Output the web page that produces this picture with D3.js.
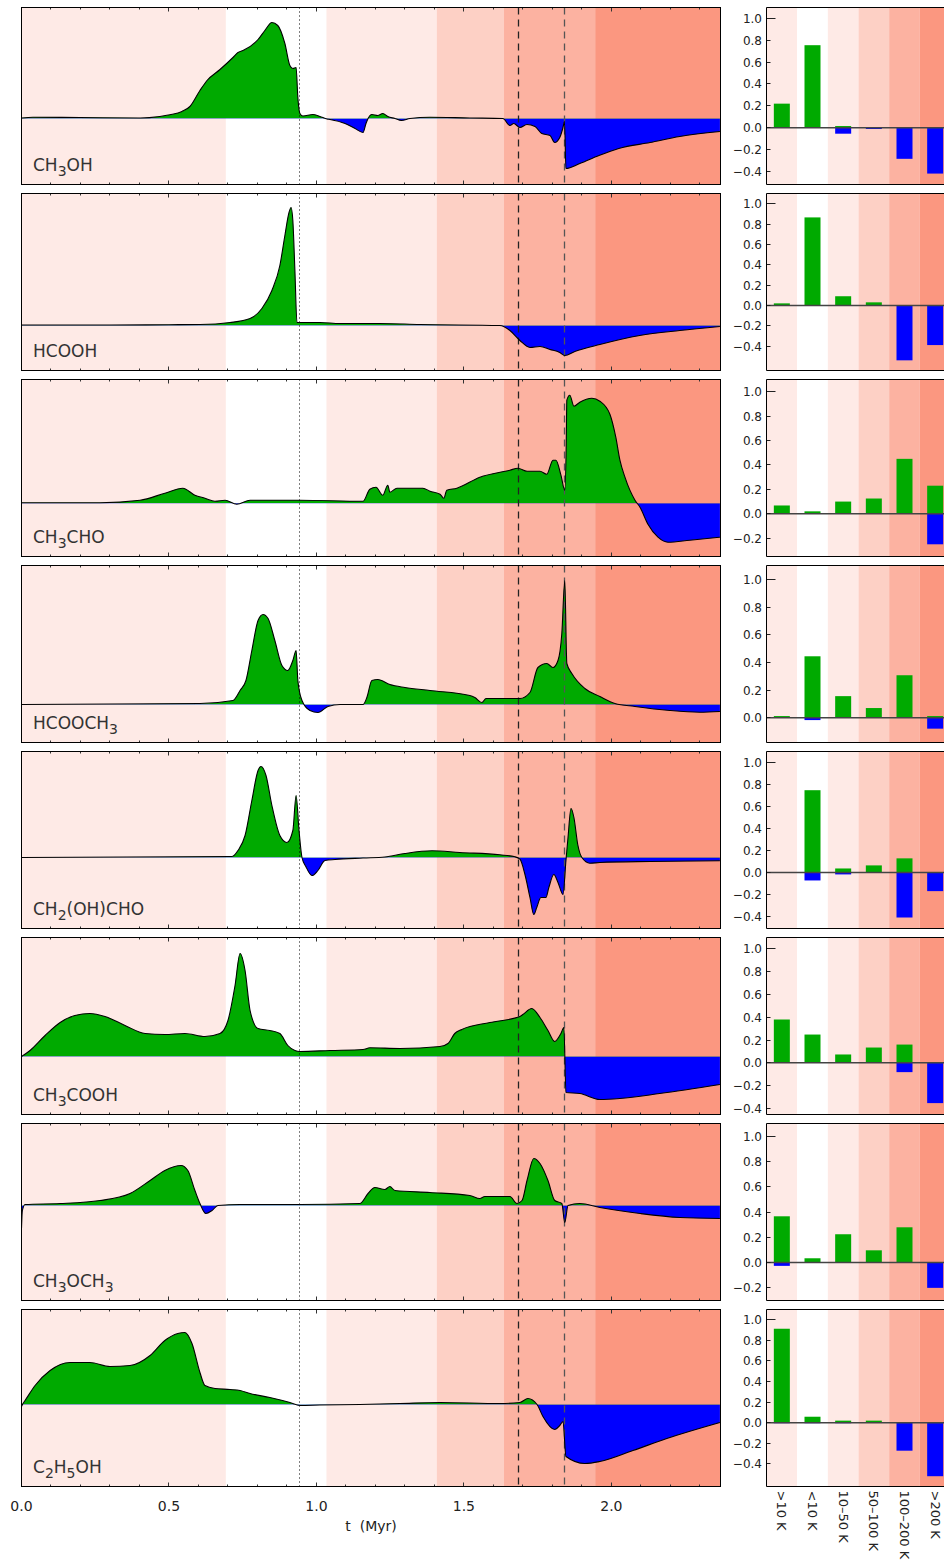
<!DOCTYPE html>
<html>
<head>
<meta charset="utf-8">
<script src="https://cdn.jsdelivr.net/npm/d3@7"></script>
<style>
body{margin:0;background:#fff}
text{font-family:"DejaVu Sans",sans-serif;fill:#222}
</style>
</head>
<body>
<script>
// species shown in each row ("_3" = subscript 3)
var speciesLabels = ["CH_3OH", "HCOOH", "CH_3CHO", "HCOOCH_3", "CH_2(OH)CHO", "CH_3COOH", "CH_3OCH_3", "C_2H_5OH"]

// temperature phases along the time axis (Myr) and their shading
var bandEdges = [0, 0.693, 1.034, 1.408, 1.636, 1.945, 2.37]
var bandColors = ["#feeae6", "#ffffff", "#feeae6", "#fdd0c5", "#fcb2a1", "#fb9780"]
var dottedAt = 0.941
var dashedAt = [1.686, 1.842]
var xTicks = [0, 0.5, 1.0, 1.5, 2.0]

// time curves [t (Myr), value]
var ch3ohCurve = [[0,0.005],[0.039,0.013],[0.198,0.01],[0.402,0.005],[0.469,0.02],[0.503,0.037],[0.544,0.07],[0.571,0.12],[0.605,0.28],[0.629,0.38],[0.673,0.49],[0.717,0.61],[0.734,0.66],[0.751,0.68],[0.802,0.79],[0.825,0.88],[0.849,0.96],[0.869,0.93],[0.893,0.75],[0.910,0.53],[0.920,0.50],[0.931,0.51],[0.937,0.21],[0.944,0.05],[0.954,0.025],[0.988,0.04],[1.012,0.02],[1.036,-0.005],[1.046,-0.01],[1.097,-0.05],[1.131,-0.10],[1.158,-0.14],[1.168,-0.05],[1.175,0],[1.188,0.04],[1.208,0.03],[1.225,0.05],[1.242,0.02],[1.266,0],[1.288,-0.02],[1.317,0],[1.385,0.013],[1.520,0.005],[1.632,0],[1.656,-0.07],[1.669,-0.05],[1.690,-0.09],[1.714,-0.06],[1.741,-0.08],[1.764,-0.15],[1.792,-0.17],[1.808,-0.24],[1.825,-0.19],[1.836,-0.09],[1.841,-0.03],[1.846,-0.50],[1.893,-0.45],[1.958,-0.37],[2.025,-0.30],[2.131,-0.24],[2.232,-0.18],[2.368,-0.13]]
var hcoohCurve = [[0,0.005],[0.3,0.005],[0.5,0.008],[0.605,0.01],[0.707,0.03],[0.775,0.07],[0.815,0.17],[0.849,0.35],[0.876,0.60],[0.893,0.90],[0.907,1.13],[0.914,1.18],[0.920,1.05],[0.927,0.55],[0.934,0.03],[0.944,0.03],[1.012,0.03],[1.08,0.02],[1.215,0.02],[1.351,0.01],[1.622,0],[1.656,-0.05],[1.69,-0.15],[1.724,-0.22],[1.758,-0.21],[1.792,-0.24],[1.825,-0.27],[1.842,-0.30],[1.876,-0.26],[1.961,-0.19],[2.096,-0.10],[2.232,-0.05],[2.368,-0.01]]
var ch3choCurve = [[0,0.005],[0.266,0.005],[0.402,0.03],[0.486,0.10],[0.547,0.15],[0.588,0.08],[0.622,0.05],[0.656,0.02],[0.690,0.03],[0.730,-0.01],[0.775,0.03],[0.944,0.03],[1.158,0.02],[1.181,0.14],[1.202,0.16],[1.225,0.08],[1.242,0.18],[1.249,0.11],[1.273,0.15],[1.317,0.15],[1.361,0.15],[1.385,0.12],[1.419,0.09],[1.432,0.05],[1.442,0.13],[1.476,0.15],[1.554,0.26],[1.656,0.33],[1.683,0.35],[1.714,0.32],[1.758,0.32],[1.781,0.29],[1.802,0.43],[1.812,0.43],[1.829,0.28],[1.842,0.13],[1.847,0.6],[1.849,1.03],[1.859,1.08],[1.873,0.97],[1.893,1.01],[1.934,1.05],[1.961,1.02],[1.995,0.89],[2.015,0.66],[2.029,0.43],[2.046,0.26],[2.080,0.03],[2.097,-0.04],[2.124,-0.21],[2.158,-0.34],[2.192,-0.39],[2.266,-0.37],[2.368,-0.34]]
var hcooch3Curve = [[0,0],[0.605,0.01],[0.717,0.04],[0.741,0.14],[0.761,0.24],[0.781,0.54],[0.802,0.84],[0.819,0.90],[0.836,0.86],[0.859,0.64],[0.883,0.39],[0.903,0.34],[0.920,0.44],[0.931,0.54],[0.937,0.24],[0.951,0.04],[0.978,-0.06],[1.005,-0.08],[1.039,-0.02],[1.080,0],[1.158,0],[1.171,0.07],[1.188,0.24],[1.208,0.25],[1.249,0.20],[1.300,0.17],[1.385,0.14],[1.520,0.09],[1.537,0.07],[1.561,0.02],[1.575,0.06],[1.622,0.06],[1.690,0.06],[1.724,0.12],[1.751,0.37],[1.781,0.41],[1.802,0.37],[1.819,0.44],[1.832,0.71],[1.842,1.24],[1.849,0.41],[1.866,0.31],[1.910,0.16],[1.961,0.08],[2.012,0.01],[2.080,-0.02],[2.198,-0.06],[2.300,-0.077],[2.368,-0.07]]
var glycolCurve = [[0,0],[0.714,0.01],[0.734,0.07],[0.758,0.22],[0.781,0.57],[0.802,0.87],[0.812,0.91],[0.829,0.82],[0.849,0.52],[0.876,0.22],[0.900,0.15],[0.920,0.27],[0.931,0.62],[0.941,0.27],[0.951,0],[0.964,-0.09],[0.985,-0.18],[1.005,-0.13],[1.029,-0.03],[1.063,-0.02],[1.158,-0.005],[1.232,0.005],[1.300,0.04],[1.392,0.067],[1.486,0.05],[1.622,0.027],[1.673,0.007],[1.690,-0.017],[1.707,-0.17],[1.724,-0.40],[1.737,-0.57],[1.747,-0.50],[1.761,-0.40],[1.778,-0.40],[1.788,-0.30],[1.805,-0.17],[1.819,-0.25],[1.836,-0.37],[1.846,-0.03],[1.853,0.20],[1.863,0.49],[1.873,0.40],[1.886,0.13],[1.900,0],[1.927,-0.057],[1.961,-0.05],[2.131,-0.04],[2.368,-0.033]]
var ch3coohCurve = [[0,0],[0.029,0.06],[0.080,0.21],[0.131,0.34],[0.181,0.41],[0.232,0.43],[0.283,0.40],[0.351,0.31],[0.419,0.23],[0.486,0.22],[0.554,0.23],[0.622,0.20],[0.673,0.23],[0.700,0.36],[0.724,0.71],[0.741,1.03],[0.758,0.86],[0.775,0.46],[0.802,0.28],[0.842,0.26],[0.876,0.23],[0.903,0.11],[0.927,0.06],[0.944,0.05],[1.046,0.06],[1.158,0.07],[1.181,0.087],[1.283,0.08],[1.419,0.10],[1.446,0.13],[1.469,0.23],[1.493,0.27],[1.588,0.34],[1.690,0.40],[1.700,0.42],[1.730,0.48],[1.758,0.39],[1.785,0.26],[1.808,0.15],[1.829,0.23],[1.839,0.29],[1.846,-0.36],[1.893,-0.37],[1.961,-0.43],[2.029,-0.42],[2.164,-0.37],[2.368,-0.28]]
var ch3och3Curve = [[0,-0.23],[0.003,-0.05],[0.012,0.01],[0.131,0.02],[0.266,0.05],[0.368,0.12],[0.436,0.25],[0.486,0.35],[0.541,0.40],[0.564,0.35],[0.588,0.15],[0.605,0.02],[0.625,-0.08],[0.646,-0.05],[0.666,0],[0.741,0.01],[0.944,0.01],[1.147,0.02],[1.175,0.12],[1.198,0.18],[1.232,0.16],[1.249,0.19],[1.266,0.15],[1.385,0.13],[1.520,0.10],[1.554,0.07],[1.571,0.09],[1.656,0.09],[1.680,0.02],[1.697,0.05],[1.714,0.25],[1.737,0.47],[1.758,0.42],[1.785,0.25],[1.808,0.05],[1.832,0.02],[1.842,-0.17],[1.853,0],[1.893,0.02],[1.961,-0.02],[2.097,-0.08],[2.232,-0.12],[2.368,-0.13]]
var c2h5ohCurve = [[0,-0.02],[0.005,0.01],[0.012,0.04],[0.046,0.19],[0.097,0.34],[0.164,0.42],[0.232,0.42],[0.300,0.38],[0.368,0.39],[0.436,0.49],[0.486,0.64],[0.530,0.71],[0.554,0.72],[0.578,0.61],[0.605,0.32],[0.622,0.19],[0.656,0.16],[0.707,0.15],[0.741,0.14],[0.775,0.11],[0.842,0.07],[0.910,0.02],[0.944,-0.01],[1.012,-0.005],[1.147,0],[1.283,0.01],[1.419,0.02],[1.622,0.01],[1.690,0.02],[1.717,0.06],[1.748,0],[1.768,-0.12],[1.808,-0.25],[1.825,-0.21],[1.836,-0.17],[1.846,-0.52],[1.910,-0.59],[1.961,-0.57],[2.073,-0.46],[2.188,-0.34],[2.368,-0.18]]
var curves = [ch3ohCurve, hcoohCurve, ch3choCurve, hcooch3Curve, glycolCurve, ch3coohCurve, ch3och3Curve, c2h5ohCurve]
var curveLo = [-0.66, -0.45, -0.533, -0.38, -0.71, -0.58, -0.95, -0.82]
var curveHi = [1.11, 1.32, 1.237, 1.39, 1.06, 1.19, 0.82, 0.95]

// temperature bins of the bar panels
var tempBins = [">10 K", "<10 K", "10–50 K", "50–100 K", "100–200 K", ">200 K"]
var gainShare = [
  [0.22, 0.755, 0.015, 0, 0, 0],
  [0.02, 0.865, 0.09, 0.03, 0, 0],
  [0.068, 0.02, 0.10, 0.125, 0.45, 0.23],
  [0.012, 0.444, 0.156, 0.07, 0.307, 0.012],
  [0, 0.748, 0.036, 0.064, 0.128, 0],
  [0.38, 0.248, 0.073, 0.134, 0.16, 0],
  [0.366, 0.034, 0.224, 0.097, 0.279, 0],
  [0.913, 0.058, 0.02, 0.02, 0.005, 0]
]
var lossShare = [
  [0, 0, -0.055, -0.012, -0.285, -0.42],
  [0, 0, 0, 0, -0.54, -0.39],
  [0, 0, 0, 0, 0, -0.25],
  [0, -0.017, 0, 0, 0, -0.079],
  [0, -0.073, -0.018, 0, -0.41, -0.17],
  [0, 0, 0, 0, -0.082, -0.354],
  [-0.026, 0, 0, 0, 0, -0.2],
  [-0.005, -0.005, -0.005, 0, -0.272, -0.52]
]
var barTicks = [-0.4, -0.2, 0, 0.2, 0.4, 0.6, 0.8, 1.0]

var green = "#00aa00", blue = "#0000ff"
var rowTop0 = 7.5, rowStep = 186, rowH = 177

var svg = d3.select("body").append("svg").attr("width", 944).attr("height", 1564)
var defs = svg.append("defs")

var x = d3.scaleLinear().domain([0, 2.37]).range([21.5, 720.5])
var xb = d3.scaleBand().domain(tempBins).range([766.5, 950.5])
var bw = xb.bandwidth()
var barW = 16
var f1 = d3.format(".1f")

function px(v){ return Math.round(v - 0.5) + 0.5 }

function addClip(id, x0, y0, w, h){
  defs.append("clipPath").attr("id", id).append("rect")
    .attr("x", x0).attr("y", y0).attr("width", w).attr("height", h)
}

speciesLabels.forEach(function(lab, i){
  var top = rowTop0 + i*rowStep
  var bottom = top + rowH
  var y = d3.scaleLinear().domain([curveLo[i], curveHi[i]]).range([bottom, top])
  var y0 = y(0)

  //////////// time panel
  var g = svg.append("g")
  addClip("frame"+i, x.range()[0], top, x.range()[1]-x.range()[0], rowH)
  addClip("up"+i, x.range()[0], top, x.range()[1]-x.range()[0], y0-top)
  addClip("dn"+i, x.range()[0], y0, x.range()[1]-x.range()[0], bottom-y0)
  var pg = g.append("g").attr("clip-path", "url(#frame"+i+")")

  pg.selectAll("rect.band").data(bandColors).join("rect")
    .attr("x", (d, j) => x(bandEdges[j]))
    .attr("width", (d, j) => x(bandEdges[j+1]) - x(bandEdges[j]))
    .attr("y", top).attr("height", rowH)
    .attr("fill", d => d)

  var area = d3.area().curve(d3.curveMonotoneX)
    .x(d => x(d[0])).y0(y0).y1(d => y(d[1]))
  var line = d3.line().curve(d3.curveMonotoneX)
    .x(d => x(d[0])).y(d => y(d[1]))

  pg.append("path").attr("d", area(curves[i])).attr("fill", green)
    .attr("clip-path", "url(#up"+i+")")
  pg.append("path").attr("d", area(curves[i])).attr("fill", blue)
    .attr("clip-path", "url(#dn"+i+")")

  // phase markers
  pg.append("line").attr("x1", px(x(dottedAt))).attr("x2", px(x(dottedAt)))
    .attr("y1", top).attr("y2", bottom)
    .attr("stroke", "#000").attr("stroke-dasharray", "1,3")
  dashedAt.forEach(function(t, k){
    pg.append("line").attr("x1", px(x(t))).attr("x2", px(x(t)))
      .attr("y1", top).attr("y2", bottom)
      .attr("stroke", k ? "#555" : "#222").attr("stroke-width", 1.3)
      .attr("stroke-dasharray", "7,5")
  })

  pg.append("path").attr("d", line(curves[i]))
    .attr("fill", "none").attr("stroke", "#000").attr("stroke-width", 1.1)

  // ticks, major every 0.5 and minor every 0.1, top and bottom
  var minor = d3.range(1, 24).map(d => d/10)
  minor.forEach(function(t){
    var len = (Math.round(t*10) % 5 == 0) ? 4 : 2
    var tx = px(x(t))
    g.append("line").attr("x1", tx).attr("x2", tx).attr("y1", top).attr("y2", top+len).attr("stroke", "#333")
    g.append("line").attr("x1", tx).attr("x2", tx).attr("y1", bottom).attr("y2", bottom-len).attr("stroke", "#333")
  })

  g.append("rect").attr("x", x.range()[0]).attr("y", top)
    .attr("width", x.range()[1]-x.range()[0]).attr("height", rowH)
    .attr("fill", "none").attr("stroke", "#000")

  // species name, digits as subscripts
  var parts = lab.split(/_(\d)/)
  var txt = g.append("text").attr("x", 33).attr("y", top + 163).style("font-size", "17px").style("fill", "#333")
  parts.forEach(function(p, k){
    if (!p) return
    if (k % 2) txt.append("tspan").text(p).attr("dy", 5).style("font-size", "14px")
    else txt.append("tspan").text(p).attr("dy", k ? -5 : 0)
  })

  //////////// bar panel
  var yb = d3.scaleLinear().domain([d3.min(lossShare[i]) - 0.1, 1.1]).range([bottom, top])
  var bg = svg.append("g")
  bg.selectAll("rect.band").data(tempBins).join("rect")
    .attr("x", d => xb(d)).attr("width", bw)
    .attr("y", top).attr("height", rowH)
    .attr("fill", (d, j) => bandColors[j])

  bg.selectAll("rect.gain").data(gainShare[i]).join("rect")
    .attr("x", (d, j) => xb(tempBins[j]) + (bw-barW)/2).attr("width", barW)
    .attr("y", d => yb(d)).attr("height", d => yb(0) - yb(d))
    .attr("fill", green)
  bg.selectAll("rect.loss").data(lossShare[i]).join("rect")
    .attr("x", (d, j) => xb(tempBins[j]) + (bw-barW)/2).attr("width", barW)
    .attr("y", yb(0)).attr("height", d => yb(d) - yb(0))
    .attr("fill", blue)

  bg.append("line").attr("x1", xb.range()[0]).attr("x2", 944)
    .attr("y1", yb(0)).attr("y2", yb(0))
    .attr("stroke", "#444").attr("stroke-width", 1.5)

  barTicks.filter(v => v >= yb.domain()[0]).forEach(function(v){
    var yy = px(yb(v))
    bg.append("line").attr("x1", 766.5).attr("x2", 766.5 + (v == 1 ? 9 : 4))
      .attr("y1", yy).attr("y2", yy).attr("stroke", "#222")
    bg.append("text").attr("x", 762).attr("y", yy).attr("dy", "0.36em")
      .attr("text-anchor", "end").style("font-size", "12px").text(f1(v))
  })

  bg.append("path").attr("d", "M950," + top + "H766.5V" + bottom + "H950")
    .attr("fill", "none").attr("stroke", "#000")
})

// time axis labels under the last row
var lastBottom = rowTop0 + 7*rowStep + rowH
svg.selectAll("text.xt").data(xTicks).join("text")
  .attr("x", d => x(d)).attr("y", lastBottom + 24)
  .attr("text-anchor", "middle").style("font-size", "14px")
  .text(d => f1(d))
svg.append("text").attr("x", (x.range()[0] + x.range()[1])/2).attr("y", lastBottom + 44)
  .attr("text-anchor", "middle").style("font-size", "14px").text("t  (Myr)")
  .style("white-space", "pre")

// bin names, rotated
svg.selectAll("text.bin").data(tempBins).join("text")
  .attr("transform", d => "translate(" + (xb(d) + bw/2) + "," + (lastBottom + 4) + ") rotate(90)")
  .attr("dy", "0.35em").style("font-size", "13px")
  .text(d => d)
</script>
</body>
</html>
